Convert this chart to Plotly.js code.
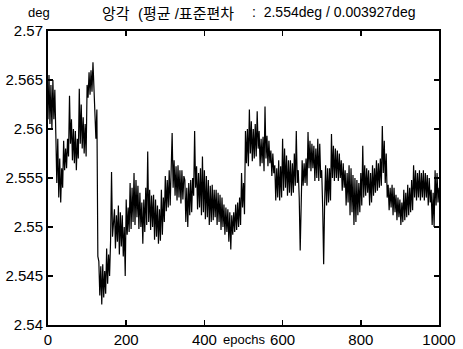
<!DOCTYPE html>
<html>
<head>
<meta charset="utf-8">
<script src="https://cdn.plot.ly/plotly-3.0.1.min.js"></script>
<style>html,body{margin:0;padding:0;background:#fff;}#chart{width:463px;height:349px;}</style>
</head>
<body>
<div id="chart"></div>
<script>
const epochStep = 2.5;
const elevation = [
  2.5610, 2.5655, 2.5605, 2.5645,  2.5600, 2.5650, 2.5610, 2.5640,
  2.5595, 2.5545, 2.5590, 2.5530,  2.5570, 2.5525, 2.5560, 2.5540,
  2.5588, 2.5558, 2.5580, 2.5560,  2.5590, 2.5572, 2.5634, 2.5585,
  2.5610, 2.5568, 2.5600, 2.5565,  2.5598, 2.5558, 2.5590, 2.5570,
  2.5641, 2.5585, 2.5625, 2.5580,  2.5612, 2.5575, 2.5605, 2.5572,
  2.5645, 2.5632, 2.5658, 2.5635,  2.5660, 2.5638, 2.5668, 2.5642,
  2.5630, 2.5590, 2.5620, 2.5470,  2.5465, 2.5430, 2.5460, 2.5421,
  2.5462, 2.5428, 2.5455, 2.5432,  2.5478, 2.5442, 2.5472, 2.5450,
  2.5485, 2.5556, 2.5490, 2.5505,  2.5518, 2.5478, 2.5512, 2.5485,
  2.5522, 2.5472, 2.5515, 2.5480,  2.5512, 2.5470, 2.5500, 2.5450,
  2.5528, 2.5492, 2.5520, 2.5495,  2.5545, 2.5498, 2.5540, 2.5505,
  2.5555, 2.5502, 2.5548, 2.5510,  2.5542, 2.5498, 2.5535, 2.5500,
  2.5525, 2.5483, 2.5528, 2.5495,  2.5540, 2.5502, 2.5577, 2.5505,
  2.5538, 2.5497, 2.5532, 2.5500,  2.5533, 2.5487, 2.5528, 2.5490,
  2.5522, 2.5483, 2.5518, 2.5486,  2.5538, 2.5492, 2.5530, 2.5505,
  2.5552, 2.5516, 2.5548, 2.5520,  2.5558, 2.5522, 2.5560, 2.5596,
  2.5540, 2.5568, 2.5532, 2.5562,  2.5527, 2.5563, 2.5530, 2.5558,
  2.5524, 2.5558, 2.5528, 2.5552,  2.5548, 2.5505, 2.5540, 2.5500,
  2.5545, 2.5512, 2.5548, 2.5515,  2.5550, 2.5532, 2.5598, 2.5540,
  2.5562, 2.5518, 2.5555, 2.5520,  2.5560, 2.5512, 2.5572, 2.5515,
  2.5558, 2.5508, 2.5552, 2.5510,  2.5548, 2.5502, 2.5542, 2.5505,
  2.5543, 2.5507, 2.5538, 2.5510,  2.5538, 2.5502, 2.5535, 2.5505,
  2.5533, 2.5497, 2.5530, 2.5500,  2.5523, 2.5492, 2.5520, 2.5495,
  2.5518, 2.5485, 2.5515, 2.5477,  2.5512, 2.5492, 2.5515, 2.5495,
  2.5523, 2.5497, 2.5525, 2.5500,  2.5530, 2.5502, 2.5555, 2.5520,
  2.5545, 2.5513, 2.5598, 2.5565,  2.5600, 2.5562, 2.5620, 2.5575,
  2.5608, 2.5567, 2.5600, 2.5570,  2.5605, 2.5572, 2.5618, 2.5580,
  2.5598, 2.5562, 2.5590, 2.5565,  2.5592, 2.5557, 2.5623, 2.5570,
  2.5593, 2.5562, 2.5588, 2.5565,  2.5578, 2.5552, 2.5575, 2.5555,
  2.5563, 2.5527, 2.5560, 2.5530,  2.5568, 2.5527, 2.5562, 2.5530,
  2.5590, 2.5537, 2.5580, 2.5540,  2.5573, 2.5532, 2.5568, 2.5535,
  2.5568, 2.5532, 2.5565, 2.5535,  2.5575, 2.5542, 2.5598, 2.5545,
  2.5558, 2.5530, 2.5476, 2.5540,  2.5568, 2.5542, 2.5565, 2.5545,
  2.5570, 2.5542, 2.5597, 2.5560,  2.5588, 2.5557, 2.5585, 2.5560,
  2.5583, 2.5547, 2.5580, 2.5550,  2.5590, 2.5547, 2.5585, 2.5550,
  2.5558, 2.5520, 2.5462, 2.5525,  2.5563, 2.5522, 2.5560, 2.5525,
  2.5560, 2.5527, 2.5595, 2.5550,  2.5583, 2.5547, 2.5580, 2.5550,
  2.5578, 2.5547, 2.5575, 2.5550,  2.5568, 2.5537, 2.5565, 2.5540,
  2.5558, 2.5522, 2.5555, 2.5525,  2.5563, 2.5512, 2.5560, 2.5515,
  2.5553, 2.5502, 2.5550, 2.5505,  2.5548, 2.5512, 2.5545, 2.5515,
  2.5555, 2.5522, 2.5583, 2.5530,  2.5563, 2.5532, 2.5560, 2.5535,
  2.5558, 2.5522, 2.5555, 2.5525,  2.5563, 2.5532, 2.5560, 2.5535,
  2.5568, 2.5537, 2.5565, 2.5540,  2.5570, 2.5542, 2.5603, 2.5555,
  2.5588, 2.5545, 2.5575, 2.5530,  2.5543, 2.5517, 2.5540, 2.5520,
  2.5543, 2.5512, 2.5540, 2.5515,  2.5533, 2.5507, 2.5530, 2.5510,
  2.5528, 2.5502, 2.5525, 2.5505,  2.5538, 2.5507, 2.5535, 2.5510,
  2.5543, 2.5512, 2.5540, 2.5515,  2.5548, 2.5517, 2.5563, 2.5530,
  2.5558, 2.5527, 2.5555, 2.5530,  2.5558, 2.5527, 2.5555, 2.5530,
  2.5558, 2.5527, 2.5555, 2.5530,  2.5553, 2.5522, 2.5550, 2.5525,
  2.5538, 2.5502, 2.5535, 2.5500,  2.5558, 2.5522, 2.5555, 2.5525,
  2.5540
];
const epochs = elevation.map((_, i) => i * epochStep);

const xTicks = [0, 200, 400, 600, 800, 1000];
const yTicks = [2.54, 2.545, 2.55, 2.555, 2.56, 2.565, 2.57];
const unitLabel = 'deg';
const titleName = '앙각  (평균 /표준편차';
const titleStats = ':  2.554deg / 0.003927deg';
const xLabel = 'epochs';

const fontFam = 'Liberation Sans, Arial, Noto Sans CJK KR, sans-serif';

const trace = {
  x: epochs, y: elevation, type: 'scatter', mode: 'lines',
  line: {color: '#000', width: 1.2}, hoverinfo: 'skip'
};

const axisCommon = {
  showgrid: false, zeroline: false, showline: true, linecolor: '#000', linewidth: 2,
  mirror: 'ticks', ticks: 'inside', ticklen: 5, tickwidth: 1.5, tickcolor: '#000',
  tickfont: {family: fontFam, size: 15, color: '#000'}
};

const layout = {
  width: 463, height: 349,
  margin: {l: 48, r: 24, t: 31, b: 24},
  paper_bgcolor: '#fff', plot_bgcolor: '#fff',
  showlegend: false,
  xaxis: Object.assign({}, axisCommon, {range: [0, 1000], tickvals: xTicks, ticktext: xTicks.map(String)}),
  yaxis: Object.assign({}, axisCommon, {range: [2.54, 2.57], tickvals: yTicks, ticktext: yTicks.map(v => String(v))}),
  annotations: [
    {text: unitLabel, xref: 'paper', yref: 'paper', x: -0.023, y: 1.03, xanchor: 'center', yanchor: 'bottom',
     showarrow: false, font: {family: fontFam, size: 13, color: '#000'}},
    {text: titleName, xref: 'paper', yref: 'paper', x: 0.133, y: 1.025, xanchor: 'left', yanchor: 'bottom',
     showarrow: false, font: {family: fontFam, size: 15, color: '#000'}},
    {text: titleStats, xref: 'paper', yref: 'paper', x: 0.943, y: 1.03, xanchor: 'right', yanchor: 'bottom',
     showarrow: false, font: {family: fontFam, size: 14, color: '#000'}},
    {text: xLabel, xref: 'paper', yref: 'paper', x: 0.5, y: -0.083, xanchor: 'center', yanchor: 'bottom',
     showarrow: false, font: {family: fontFam, size: 13, color: '#000'}}
  ]
};

Plotly.newPlot('chart', [trace], layout, {staticPlot: true, displayModeBar: false});
</script>
</body>
</html>
